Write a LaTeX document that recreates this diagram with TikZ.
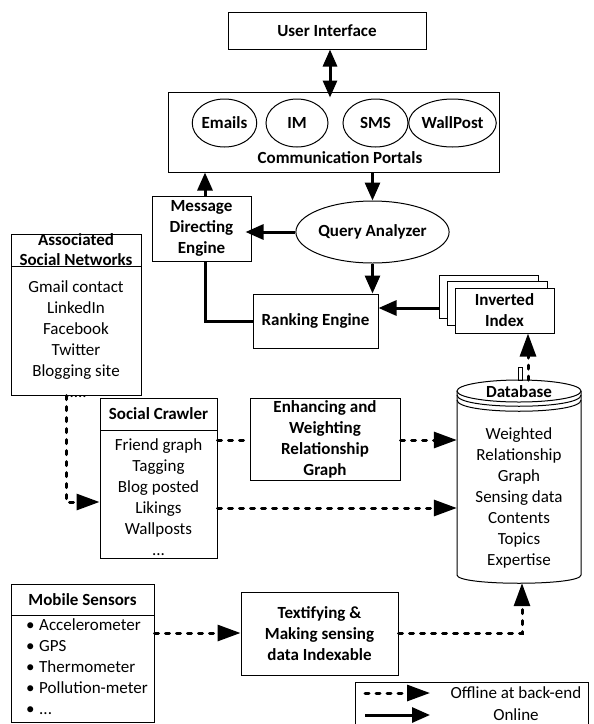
\documentclass[tikz,border=0pt]{standalone}
\usepackage{fontspec}
\setmainfont{Carlito}
\usetikzlibrary{arrows.meta,shapes.geometric}
\begin{document}
\begin{tikzpicture}[x=1pt,y=-1pt,
  font=\fontsize{17}{21}\selectfont,
  box/.style={draw,line width=1pt,inner sep=0pt,align=center,font=\fontsize{17}{21}\selectfont\bfseries},
  oval/.style={draw,ellipse,line width=1pt,inner sep=0pt,font=\fontsize{17}{21}\selectfont\bfseries},
  txt/.style={inner sep=0pt,align=center},
  btxt/.style={inner sep=0pt,align=center,font=\fontsize{17}{21}\selectfont\bfseries},
  tip/.style={-{Triangle[length=18pt,width=15pt]}},
  otip/.style={-{Triangle[length=23pt,width=16pt]}},
  on/.style={line width=3pt,tip},
  onplain/.style={line width=3pt},
  dbl/.style={line width=3pt,{Triangle[length=17pt,width=14pt]}-{Triangle[length=17pt,width=14pt]}},
  off/.style={line width=3pt,dash pattern=on 4pt off 7pt,line cap=round,otip},
  offplain/.style={line width=3pt,dash pattern=on 4pt off 7pt,line cap=round},
]
\useasboundingbox (0,0) rectangle (594,724);

% helper coordinates
\coordinate (c330) at (330,0);
\coordinate (c205) at (205,0);
\coordinate (c308) at (0,308);
\coordinate (c528) at (528,0);
\coordinate (c440) at (0,440);
\coordinate (c508) at (0,508);
\coordinate (k1) at (66,502);
\coordinate (c633) at (0,633);
\coordinate (c522) at (522,0);
\coordinate (dbtop) at (519,380);

% User interface
\node[box,minimum width=198pt,minimum height=37pt] (ui) at (327,30.5) {User Interface};

% Communication portals
\node[draw,line width=1pt,minimum width=331pt,minimum height=80pt,inner sep=0pt] (cp) at (333.5,132) {};
\node[oval,minimum width=63pt,minimum height=48pt] (em) at (224.5,123) {Emails};
\node[oval,minimum width=62pt,minimum height=48pt] (im) at (297,123) {IM};
\node[oval,minimum width=65pt,minimum height=48pt] (sms) at (375.5,123) {SMS};
\node[oval,minimum width=81pt,minimum height=48pt] (wp) at (452.5,123) {WallPost};
\node[btxt] (cpl) at (340,158) {Communication Portals};

% Query analyzer
\node[oval,minimum width=149pt,minimum height=62pt] (qa) at (372.5,232) {Query Analyzer};

% Message directing engine
\node[box,minimum width=99pt,minimum height=65pt] (mde) at (201.5,228.5) {Message\\Directing\\Engine};

% Ranking engine
\node[box,minimum width=125pt,minimum height=54pt] (re) at (315.5,321) {Ranking Engine};

% Stacked documents
\node[draw,line width=1pt,fill=white,minimum width=99pt,minimum height=43pt,inner sep=0pt] (stk1) at (488.5,296.5) {};
\node[draw,line width=1pt,fill=white,minimum width=100pt,minimum height=44pt,inner sep=0pt] (stk2) at (497,303) {};
\node[box,fill=white,minimum width=99pt,minimum height=45pt] (ii) at (504.5,310.5) {Inverted\\Index};

% Associated social networks
\node[draw,line width=1pt,minimum width=130pt,minimum height=161pt,inner sep=0pt] (asn) at (76,314.5) {};
\draw[line width=1pt] (11,266) -- (141,266);
\node[btxt,font=\fontsize{17}{20}\selectfont\bfseries] (asnh) at (76,250) {Associated\\Social Networks};
\node[txt] (asnl) at (76,339) {Gmail contact\\LinkedIn\\Facebook\\Twitter\\Blogging site\\.....};

% Social crawler
\node[draw,line width=1pt,minimum width=117pt,minimum height=160pt,inner sep=0pt] (sc) at (158.5,478) {};
\draw[line width=1pt] (100,430) -- (217,430);
\node[btxt] (sch) at (158.5,414) {Social Crawler};
\node[txt] (scl) at (158.5,497) {Friend graph\\Tagging\\Blog posted\\Likings\\Wallposts\\...};

% Enhancing and weighting
\node[box,minimum width=150pt,minimum height=82pt] (ew) at (325,439) {Enhancing and\\Weighting\\Relationship\\Graph};

% Database cylinder
\node[inner sep=0pt,minimum width=124pt,minimum height=203pt] (db) at (519,481.5) {};
\draw[line width=1pt,fill=white] (457,391) -- (457,575) .. controls (457,586) and (581,586) .. (581,575) -- (581,391);
\draw[line width=1pt] (519,391) ellipse [x radius=62, y radius=11];
\draw[line width=1pt] (457,395) .. controls (457,410) and (581,410) .. (581,395);
\draw[line width=1pt] (457,400) .. controls (457,415) and (581,415) .. (581,400);
\node[btxt] (dbh) at (519,392) {Database};
\node[txt] (dbl) at (519,498) {Weighted\\Relationship\\Graph\\Sensing data\\Contents\\Topics\\Expertise};
\draw[line width=0.8pt] (518,367) rectangle (522,380);

% Mobile sensors
\node[draw,line width=1pt,minimum width=143pt,minimum height=138pt,inner sep=0pt] (ms) at (82.5,653) {};
\draw[line width=1pt] (11,615) -- (154,615);
\node[btxt] (msh) at (82.5,600) {Mobile Sensors};
\node[txt,anchor=west,align=left] (msl) at (26,667) {\makebox[13pt][l]{\textbullet}Accelerometer\\\makebox[13pt][l]{\textbullet}GPS\\\makebox[13pt][l]{\textbullet}Thermometer\\\makebox[13pt][l]{\textbullet}Pollution-meter\\\makebox[13pt][l]{\textbullet}...};

% Textifying
\node[box,minimum width=157pt,minimum height=83pt] (tx) at (319.5,633.5) {Textifying \&\\Making sensing\\data Indexable};

% Legend
\draw[line width=1pt] (355,682) rectangle (588,728);
\coordinate (l1a) at (365,693);
\coordinate (l1b) at (430,693);
\coordinate (l2a) at (365,715);
\coordinate (l2b) at (430,715);
\node[txt] (lg1) at (516,693) {Offline at back-end};
\node[txt] (lg2) at (516,715) {Online};
\draw[off] (l1a) -- (l1b);
\draw[on] (l2a) -- (l2b);

% Online connectors
\draw[dbl,shorten >=-6pt] (c330 |- ui.south) -- (c330 |- cp.north);
\draw[on] (qa.north |- cp.south) -- (qa.north);
\draw[on,shorten >=-6pt] (qa.west) -- (qa.west -| mde.east);
\draw[on] (c205 |- mde.north) -- (c205 |- cp.south);
\draw[onplain] (c205 |- mde.south) |- (re.west);
\draw[on] (qa.south) -- (qa.south |- re.north);
\draw[on] (c308 -| stk1.west) -- (c308 -| re.east);

% Offline connectors
\draw[off] (c528 |- dbtop) -- (c528 |- ii.south);
\draw[off] (k1 |- asn.south) |- (k1 -| sc.west);
\draw[offplain] (c440 -| sc.east) -- (c440 -| ew.west);
\draw[off] (c440 -| ew.east) -- (c440 -| db.west);
\draw[off] (c508 -| sc.east) -- (c508 -| db.west);
\draw[off] (c633 -| ms.east) -- (c633 -| tx.west);
\draw[off] (c633 -| tx.east) -| (c522 |- db.south);
\end{tikzpicture}
\end{document}
